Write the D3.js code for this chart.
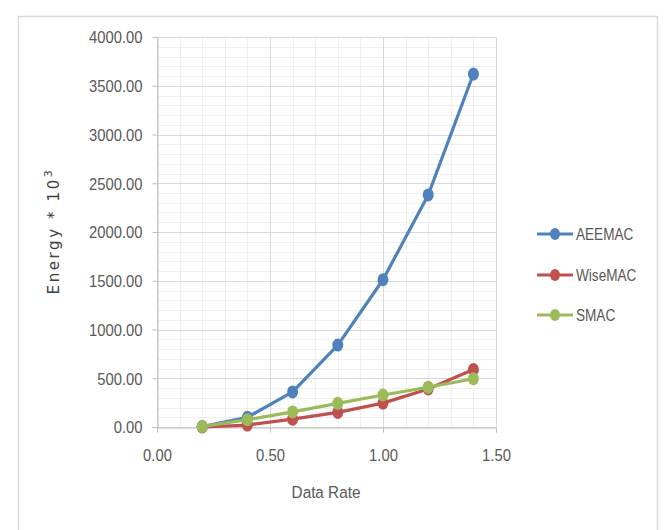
<!DOCTYPE html>
<html><head><meta charset="utf-8">
<script src="https://cdn.jsdelivr.net/npm/d3@7"></script>
<style>body{margin:0;background:#fff}</style>
</head><body>
<svg id="c" width="664" height="530"></svg>
<script>
const xValues = [0.2, 0.4, 0.6, 0.8, 1.0, 1.2, 1.4];
const aeemac = [5, 100, 360, 840, 1510, 2380, 3620];
const wisemac = [0, 20, 80, 150, 245, 390, 590];
const smac = [5, 75, 155, 243, 328, 408, 495];
const seriesNames = ["AEEMAC", "WiseMAC", "SMAC"];
const seriesColors = ["#4f81bd", "#c0504d", "#9bbb59"];
const xTicks = [0, 0.5, 1.0, 1.5];
const yTicks = [0, 500, 1000, 1500, 2000, 2500, 3000, 3500, 4000];

const svg = d3.select("#c");
const font = "'Liberation Sans','Arial',sans-serif";
const SX = 0.87;
svg.append("rect").attr("x",18.5).attr("y",16.5).attr("width",639).attr("height",530)
  .attr("fill","#fff").attr("stroke","#d9d9d9").attr("stroke-width",1.5);

const L=157, R=496, T=37, B=427;
const x = d3.scaleLinear().domain([0,1.5]).range([L,R]);
const y = d3.scaleLinear().domain([0,4000]).range([B,T]);

const g = svg.append("g");
g.selectAll(".mx").data(d3.range(0,1.501,0.1)).enter().append("line")
  .attr("x1",d=>Math.round(x(d))+0.5).attr("x2",d=>Math.round(x(d))+0.5).attr("y1",T).attr("y2",B)
  .attr("stroke","#efefef").attr("stroke-width",1);
g.selectAll(".my").data(d3.range(0,4001,100)).enter().append("line")
  .attr("y1",d=>Math.round(y(d))+0.5).attr("y2",d=>Math.round(y(d))+0.5).attr("x1",L).attr("x2",R)
  .attr("stroke","#efefef").attr("stroke-width",1);
g.selectAll(".Mx").data(xTicks).enter().append("line")
  .attr("x1",d=>Math.round(x(d))+0.5).attr("x2",d=>Math.round(x(d))+0.5).attr("y1",T).attr("y2",B)
  .attr("stroke","#d9d9d9").attr("stroke-width",1);
g.selectAll(".My").data(yTicks).enter().append("line")
  .attr("y1",d=>Math.round(y(d))+0.5).attr("y2",d=>Math.round(y(d))+0.5).attr("x1",L).attr("x2",R)
  .attr("stroke","#d9d9d9").attr("stroke-width",1);

const xAxis = d3.axisBottom(x).tickValues(xTicks).tickFormat(d3.format(".2f")).tickSize(5);
const yAxis = d3.axisLeft(y).tickValues(yTicks).tickFormat(d3.format(".2f")).tickSize(5);
const ax = svg.append("g").attr("transform",`translate(0,${B+0.5})`).call(xAxis);
const ay = svg.append("g").attr("transform",`translate(${L+0.5},0)`).call(yAxis);
[ax,ay].forEach(a=>{
  a.select(".domain").attr("stroke","#bfbfbf");
  a.selectAll(".tick line").attr("stroke","#bfbfbf");
  a.selectAll("text").attr("fill","#595959").style("font-family",font).style("font-size","17px")
    .attr("transform",`scale(${SX},1)`);
});
ax.selectAll("text").attr("y",28).attr("dy","0.35em");
ay.selectAll("text").attr("x",-15/SX).attr("dy","0.35em");

const data = [aeemac, wisemac, smac];
const line = d3.line().x((d,i)=>x(xValues[i])).y(d=>y(d));
data.forEach((s,k)=>{
  svg.append("path").datum(s).attr("d",line).attr("fill","none")
    .attr("stroke",seriesColors[k]).attr("stroke-width",3.2).attr("stroke-linejoin","round");
  svg.selectAll(".p"+k).data(s).enter().append("ellipse")
    .attr("cx",(d,i)=>x(xValues[i])).attr("cy",d=>y(d)).attr("rx",5.5).attr("ry",6.5)
    .attr("fill",seriesColors[k]);
});

const legY = [234, 275, 315];
seriesNames.forEach((n,k)=>{
  const lg = svg.append("g");
  lg.append("line").attr("x1",537).attr("x2",573).attr("y1",legY[k]).attr("y2",legY[k])
    .attr("stroke",seriesColors[k]).attr("stroke-width",3);
  lg.append("ellipse").attr("cx",555).attr("cy",legY[k]).attr("rx",5).attr("ry",6).attr("fill",seriesColors[k]);
  lg.append("text").attr("transform",`translate(576,${legY[k]}) scale(0.8,1)`).attr("dy","0.35em").text(n)
    .attr("fill","#595959").style("font-family",font).style("font-size","17px");
});

svg.append("text").attr("transform","translate(326,492) scale(0.9,1)").attr("dy","0.35em")
  .attr("text-anchor","middle").text("Data Rate")
  .attr("fill","#595959").style("font-family",font).style("font-size","17px");
const yt = svg.append("text").attr("transform","translate(59,231) rotate(-90)").attr("text-anchor","middle")
  .attr("fill","#404040").style("font-family","'DejaVu Sans',sans-serif").style("font-size","15px")
  .style("letter-spacing","2.6px");
yt.append("tspan").text("Energy * 10");
yt.append("tspan").attr("dy","-7").style("font-size","11px").text("3");
</script>
</body></html>
